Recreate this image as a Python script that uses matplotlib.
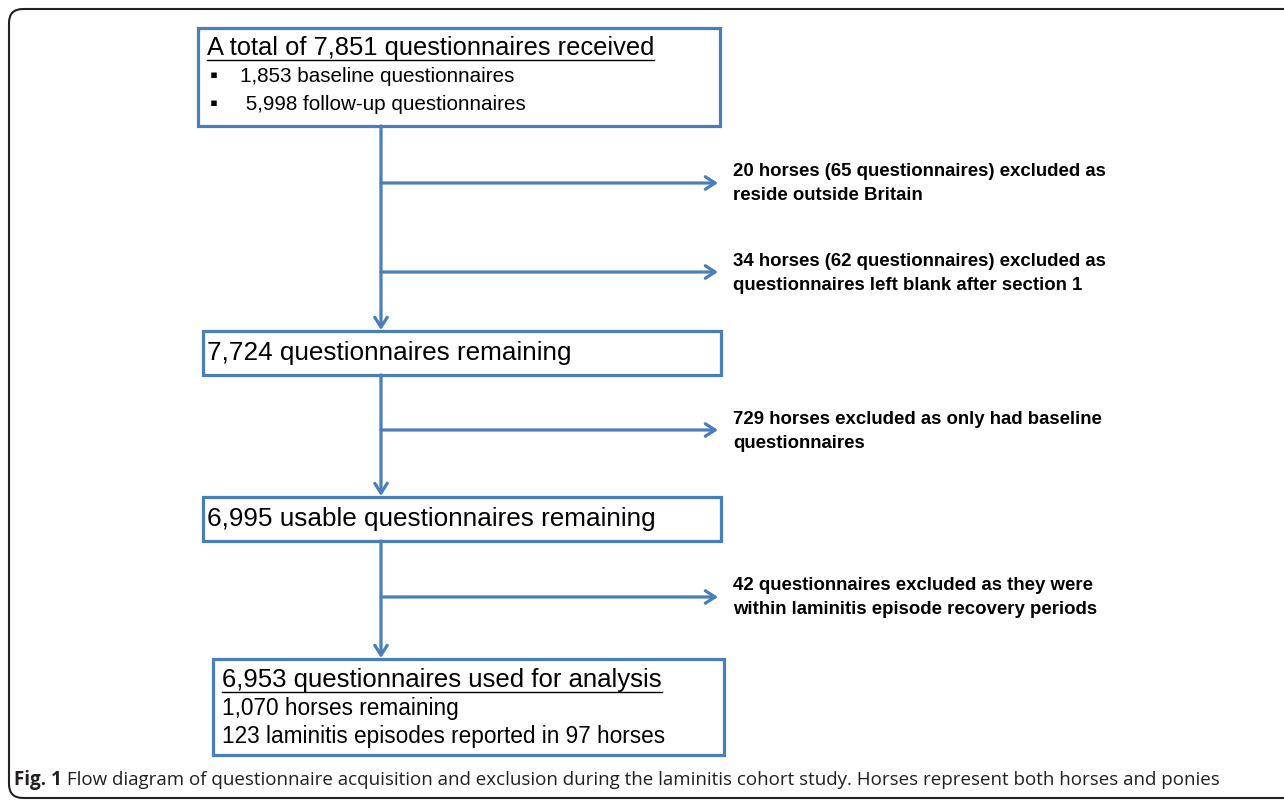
import matplotlib
matplotlib.use("Agg")
import matplotlib.pyplot as plt
from matplotlib.patches import FancyBboxPatch, Rectangle

W, H = 1284, 801
BLUE = "#4a7ebb"

# ---- content ----
box_headers = ["A total of 7,851 questionnaires received",
               "7,724 questionnaires remaining",
               "6,995 usable questionnaires remaining",
               "6,953 questionnaires used for analysis"]
box1_bullets = ["1,853 baseline questionnaires", " 5,998 follow-up questionnaires"]
box4_lines = ["1,070 horses remaining", "123 laminitis episodes reported in 97 horses"]
exclusions = [["20 horses (65 questionnaires) excluded as", "reside outside Britain"],
              ["34 horses (62 questionnaires) excluded as", "questionnaires left blank after section 1"],
              ["729 horses excluded as only had baseline", "questionnaires"],
              ["42 questionnaires excluded as they were", "within laminitis episode recovery periods"]]
caption_bold = "Fig. 1"
caption_text = (" Flow diagram of questionnaire acquisition and exclusion during the laminitis "
                "cohort study. Horses represent both horses and ponies")

# ---- layout (pixel coordinates) ----
boxes = [(198, 28, 720, 126), (203, 331, 721, 375), (203, 497, 721, 541), (213, 659, 724, 755)]
spine_x = 381
arrow_y = [183, 272, 430, 597]
arrow_end = 718
text_x = 733

fig = plt.figure(figsize=(W / 100, H / 100), dpi=100)
ax = fig.add_axes([0, 0, 1, 1])
ax.set_xlim(0, W)
ax.set_ylim(H, 0)
ax.axis("off")

# outer frame
frame = FancyBboxPatch((9, 9), 1300, 789, boxstyle="round,pad=0,rounding_size=14",
                       fill=False, ec="#222222", lw=1.5, clip_on=True)
ax.add_patch(frame)

for (x0, y0, x1, y1) in boxes:
    ax.add_patch(Rectangle((x0, y0), x1 - x0, y1 - y0, fill=False, ec=BLUE, lw=2.3))

# vertical arrows between boxes
for i in range(3):
    y_start = boxes[i][3]
    y_end = boxes[i + 1][1]
    ax.annotate("", xy=(spine_x, y_end - 1), xytext=(spine_x, y_start),
                arrowprops=dict(arrowstyle="->,head_length=0.7,head_width=0.45",
                                color=BLUE, lw=2.3, shrinkA=0, shrinkB=0))

# horizontal exclusion arrows
for y in arrow_y:
    ax.annotate("", xy=(arrow_end, y), xytext=(spine_x, y),
                arrowprops=dict(arrowstyle="->,head_length=0.7,head_width=0.45",
                                color=BLUE, lw=2.3, shrinkA=0, shrinkB=0))

fam = ["Liberation Sans", "DejaVu Sans"]
fig.canvas.draw()
renderer = fig.canvas.get_renderer()

def underlined(x, y, s, size):
    t = ax.text(x, y, s, fontsize=size, family=fam, va="center", ha="left", color="black")
    bb = t.get_window_extent(renderer=renderer)
    inv = ax.transData.inverted()
    (xa, ya), (xb, yb) = inv.transform([[bb.x0, bb.y0], [bb.x1, bb.y1]])
    ax.plot([xa, xb], [y + 12, y + 12], color="black", lw=1.0)
    return t

# box 1
underlined(207, 48, box_headers[0], 18.4)
for yy, s in zip([77, 104], box1_bullets):
    ax.text(210, yy, "\u25aa", fontsize=16, family=fam, va="center", ha="left")
    ax.text(240, yy, s, fontsize=14.9, family=fam, va="center", ha="left")

# box 2, box 3
ax.text(207, 353, box_headers[1], fontsize=18.8, family=fam, va="center", ha="left")
ax.text(207, 519, box_headers[2], fontsize=18.8, family=fam, va="center", ha="left")

# box 4
underlined(222, 680, box_headers[3], 18.5)
for yy, s in zip([709, 736], box4_lines):
    ax.text(222, yy, s, fontsize=16.3, family=fam, va="center", ha="left")

# exclusion texts
nfam = ["Liberation Sans Narrow", "Liberation Sans", "DejaVu Sans"]
for y, lines in zip(arrow_y, exclusions):
    ax.text(text_x, y - 11, lines[0], fontsize=13.4, family=nfam, weight="bold",
            va="center", ha="left")
    ax.text(text_x, y + 13, lines[1], fontsize=13.4, family=nfam, weight="bold",
            va="center", ha="left")

# caption
cap_fam = ["Open Sans", "DejaVu Sans"]
t1 = ax.text(14, 780, caption_bold, fontsize=13.5, family=cap_fam, weight="bold",
             va="center", ha="left", color="#231f20")
bb = t1.get_window_extent(renderer=renderer)
x_after = ax.transData.inverted().transform([[bb.x1, bb.y0]])[0][0]
ax.text(x_after, 780, caption_text, fontsize=13.5, family=cap_fam, va="center",
        ha="left", color="#231f20")

fig.savefig("out.png", dpi=100)
